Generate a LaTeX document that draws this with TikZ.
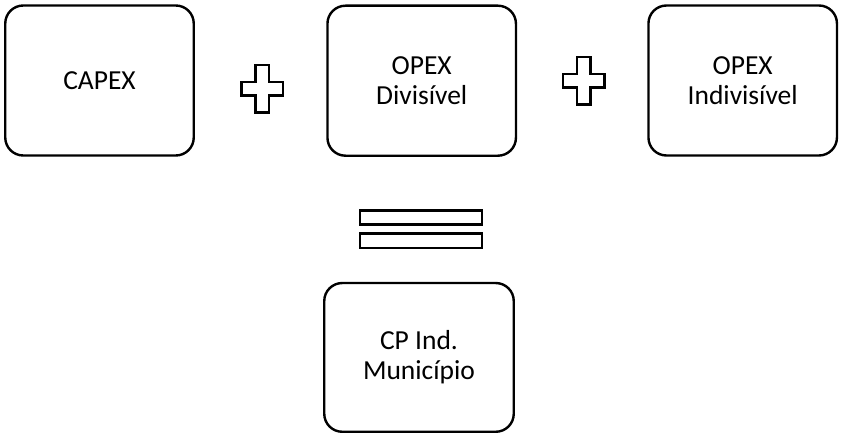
\documentclass[tikz,border=0pt]{standalone}
\usepackage{fontspec}
\setmainfont{Carlito}
\begin{document}
\begin{tikzpicture}[x=1pt,y=-1pt,
  box/.style={draw=black, line width=2.4pt, rounded corners=18pt, minimum width=188.5pt, minimum height=150pt, align=center, inner sep=0pt, font=\fontsize{27.5}{29.5}\selectfont},
  sym/.style={draw=black, line width=2.4pt, fill=white, line join=miter}
]
\useasboundingbox (0,0) rectangle (841,436);
\node[box] (capex) at (99.5,80.5) {CAPEX};
\node[box] (opexd) at (421.7,80.7) {OPEX\\Divisível};
\node[box] (opexi) at (742.7,80.5) {OPEX\\Indivisível};
\node[box, minimum width=189.5pt, minimum height=148.75pt] (cp) at (419,357.4) {CP Ind.\\Município};
% plus signs
\coordinate (p1) at (262.2,88.8);
\coordinate (p2) at (583.8,80.8);
\foreach \c in {p1,p2}{
  \draw[sym] ([shift={(-6.6,-23.7)}]\c) -- ([shift={(6.6,-23.7)}]\c) -- ([shift={(6.6,-6.6)}]\c)
    -- ([shift={(20.7,-6.6)}]\c) -- ([shift={(20.7,6.6)}]\c) -- ([shift={(6.6,6.6)}]\c)
    -- ([shift={(6.6,23.7)}]\c) -- ([shift={(-6.6,23.7)}]\c) -- ([shift={(-6.6,6.6)}]\c)
    -- ([shift={(-20.7,6.6)}]\c) -- ([shift={(-20.7,-6.6)}]\c) -- ([shift={(-6.6,-6.6)}]\c) -- cycle;
}
% equals sign
\coordinate (eq) at (421,229.1);
\draw[sym] ([shift={(-60.8,-18.6)}]eq) rectangle ([shift={(60.8,-4.6)}]eq);
\draw[sym] ([shift={(-60.8,4.4)}]eq) rectangle ([shift={(60.8,18.6)}]eq);
\end{tikzpicture}
\end{document}
